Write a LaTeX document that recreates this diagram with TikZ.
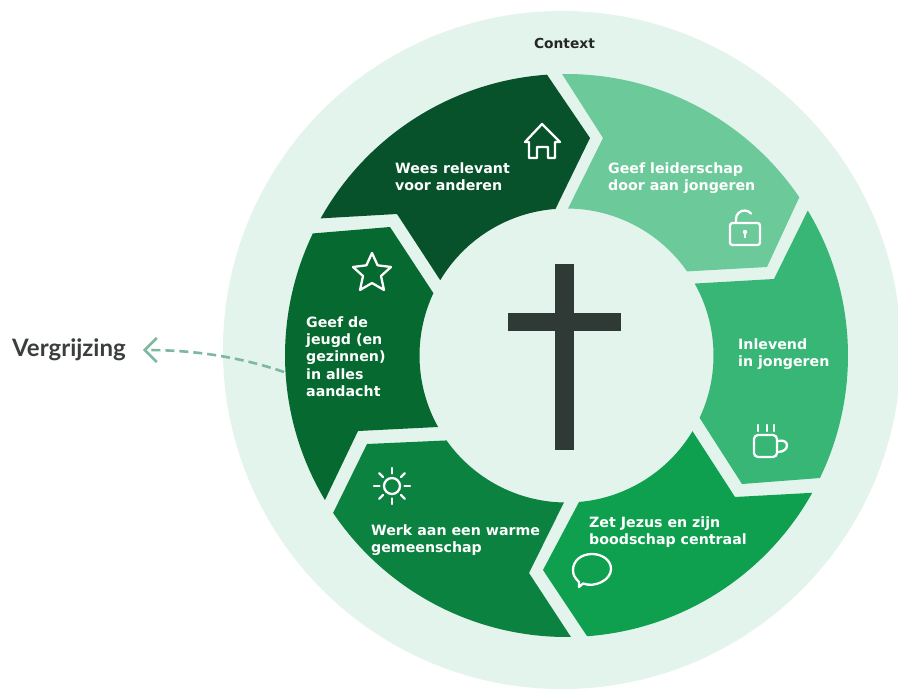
\documentclass[tikz,border=0pt]{standalone}
\usepackage{fontspec}
\usetikzlibrary{arrows.meta,calc}
\setmainfont{DejaVu Sans}
\newfontfamily\vergfont{Lato}
\definecolor{bgc}{HTML}{E3F4EC}
\definecolor{sa}{HTML}{07522A}
\definecolor{sb}{HTML}{6CC99A}
\definecolor{sc}{HTML}{37B676}
\definecolor{sd}{HTML}{0EA04F}
\definecolor{se}{HTML}{0B8240}
\definecolor{sf}{HTML}{06692F}
\definecolor{crossc}{HTML}{2F3A36}
\definecolor{dashc}{HTML}{7FB8A0}
\definecolor{vergc}{HTML}{3A3F3D}
\tikzset{
  lbl/.style={text=white,font=\fontsize{14.2}{17.2}\selectfont\bfseries,align=left,anchor=north west,inner sep=0pt},
  icon/.style={draw=white,line width=2.3pt,line join=round,line cap=round},
}
\newcommand{\oR}{281.5}
\newcommand{\iR}{147}
\begin{document}
\begin{tikzpicture}[x=1pt,y=-1pt]
\useasboundingbox (0,0) rectangle (898,693);
\fill[white] (0,0) rectangle (898,693);
\coordinate (c) at (566.5,355.5);
\fill[bgc] (562,350) circle[radius=339];
% segments
\fill[sa] ($(c)+(-150.85:\oR)$) arc[start angle=-150.85,end angle=-93.98,radius=\oR] -- (590,138) -- ($(c)+(-94.3:\iR)$) arc[start angle=-94.3,end angle=-149.2,radius=\iR] -- (397,214) -- cycle;
\fill[sb] ($(c)+(-90.9:\oR)$) arc[start angle=-90.9,end angle=-34.2,radius=\oR] -- (767,267) -- ($(c)+(-34.9:\iR)$) arc[start angle=-34.9,end angle=-89.4,radius=\iR] -- (603,138) -- cycle;
\fill[sc] ($(c)+(-31:\oR)$) arc[start angle=-31,end angle=25.8,radius=\oR] -- (742,484) -- ($(c)+(25.1:\iR)$) arc[start angle=25.1,end angle=-29.3,radius=\iR] -- (774,279) -- cycle;
\fill[sd] ($(c)+(29.2:\oR)$) arc[start angle=29.2,end angle=85.8,radius=\oR] -- (543,570) -- ($(c)+(85.1:\iR)$) arc[start angle=85.1,end angle=31,radius=\iR] -- (735,497) -- cycle;
\fill[se] ($(c)+(146:\oR)$) arc[start angle=146,end angle=89.1,radius=\oR] -- (529,573) -- ($(c)+(91:\iR)$) arc[start angle=91,end angle=144.7,radius=\iR] -- (367,444) -- cycle;
\fill[sf] ($(c)+(-154.3:\oR)$) arc[start angle=-154.3,end angle=-210.9,radius=\oR] -- (358,431) -- ($(c)+(-209.1:\iR)$) arc[start angle=-209.1,end angle=-154.9,radius=\iR] -- (390,227) -- cycle;
% cross
\fill[crossc] (555,264) rectangle (574,450);
\fill[crossc] (508,313) rectangle (621,331);
% labels
\node[font=\fontsize{13.8}{15}\selectfont\bfseries,text=black!85,inner sep=0pt] (context) at (564.5,43) {Context};
\node[lbl] (wees) at (395,162.5) {Wees relevant\\voor anderen};
\node[lbl] (leider) at (608,162.5) {Geef leiderschap\\door aan jongeren};
\node[lbl] (inlevend) at (738,338.5) {Inlevend\\in jongeren};
\node[lbl] (jezus) at (589,516.5) {Zet Jezus en zijn\\boodschap centraal};
\node[lbl] (warm) at (371,524.5) {Werk aan een warme\\gemeenschap};
\node[lbl] (jeugd) at (306,316.5) {Geef de\\jeugd (en\\gezinnen)\\in alles\\aandacht};
\node[inner sep=0pt,anchor=west,text=vergc,font=\vergfont\fontsize{24}{28}\selectfont\bfseries] (verg) at (12,350) {Vergrijzing};
\coordinate (vstart) at (284,372);
\draw[dashc,line width=2.6pt,dash pattern=on 9pt off 5pt,-{Straight Barb[length=12pt,width=24pt,line width=2.6pt]},shorten >=17pt] (vstart) .. controls (240,357) and (195,350) .. (verg.east);
% house
\draw[icon] (542,124) -- (560,142) -- (555,142) -- (555,158) -- (548,158) -- (548,147) -- (537,147) -- (537,158) -- (529,158) -- (529,142) -- (525,142) -- cycle;
% lock
\draw[icon,rounded corners=2.5pt] (730,223) rectangle (760,245);
\draw[icon] (736,223) -- (736,219) arc[start angle=-180,end angle=-40,radius=8.5];
\fill[white] (745,232) circle[radius=2.2];
\fill[white] (744,232) rectangle (746,238);
% cup
\draw[icon,rounded corners=4pt] (754,435) rectangle (777,457);
\draw[icon] (778,441) .. controls (790,438) and (790,452) .. (778,452);
\draw[icon] (758,425) -- (758,431) (767,425) -- (767,431) (774,425) -- (774,431);
% bubble
\draw[icon] (583,583.5) .. controls (595,588) and (611,580) .. (611,569) .. controls (611,560) and (602,554) .. (592,554) .. controls (581,554) and (573,561) .. (573,570) .. controls (573,575) and (575,578) .. (579,582) -- (579,587) -- cycle;
% sun
\draw[icon] (392,486) circle[radius=8];
\foreach \a in {0,45,...,315} \draw[icon] ($(392,486)+(\a:12.5)$) -- ($(392,486)+(\a:18)$);
% star
\draw[icon] (372,253) -- (377.6,265.3) -- (391,267) -- (381,276) -- (384,290) -- (372,283) -- (360,290) -- (363,276) -- (353,267) -- (366.4,265.3) -- cycle;
\end{tikzpicture}
\end{document}
